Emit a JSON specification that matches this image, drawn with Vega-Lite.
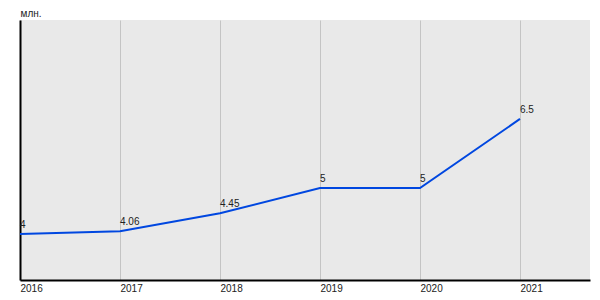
{
  "$schema": "https://vega.github.io/schema/vega-lite/v6.json",
  "width": 570,
  "height": 260,
  "autosize": {"type": "none"},
  "padding": {"left": 20, "top": 20, "right": 10, "bottom": 20},
  "background": "white",
  "config": {
    "view": {"fill": "#e9e9e9", "stroke": null},
    "font": "Liberation Sans"
  },
  "data": {
    "values": [
      {"year": 2016, "value": 4, "label": "4"},
      {"year": 2017, "value": 4.06, "label": "4.06"},
      {"year": 2018, "value": 4.45, "label": "4.45"},
      {"year": 2019, "value": 5, "label": "5"},
      {"year": 2020, "value": 5, "label": "5"},
      {"year": 2021, "value": 6.5, "label": "6.5"}
    ]
  },
  "encoding": {
    "x": {
      "field": "year",
      "type": "quantitative",
      "scale": {"domain": [2016, 2021.7], "nice": false, "zero": false},
      "axis": {
        "title": null,
        "values": [2016, 2017, 2018, 2019, 2020, 2021],
        "format": "d",
        "grid": true,
        "gridColor": "#c4c4c4",
        "gridWidth": 1,
        "ticks": false,
        "domainColor": "black",
        "domainWidth": 2,
        "labelAlign": "left",
        "labelFontSize": 10,
        "labelColor": "#222",
        "labelPadding": 3,
        "labelFlush": false
      }
    },
    "y": {
      "field": "value",
      "type": "quantitative",
      "scale": {"domain": [3, 8.65], "nice": false, "zero": false},
      "axis": {
        "title": "млн.",
        "titleAngle": 0,
        "titleAlign": "left",
        "titleBaseline": "bottom",
        "titleX": 0,
        "titleY": -2,
        "titleFontSize": 10,
        "titleFontWeight": "normal",
        "titleColor": "#222",
        "labels": false,
        "ticks": false,
        "grid": false,
        "domainColor": "black",
        "domainWidth": 2
      }
    }
  },
  "layer": [
    {
      "mark": {"type": "line", "color": "#0047e0", "strokeWidth": 2}
    },
    {
      "mark": {"type": "text", "align": "left", "baseline": "bottom", "dy": -4, "fontSize": 10, "color": "#222"},
      "encoding": {"text": {"field": "label"}}
    }
  ]
}
